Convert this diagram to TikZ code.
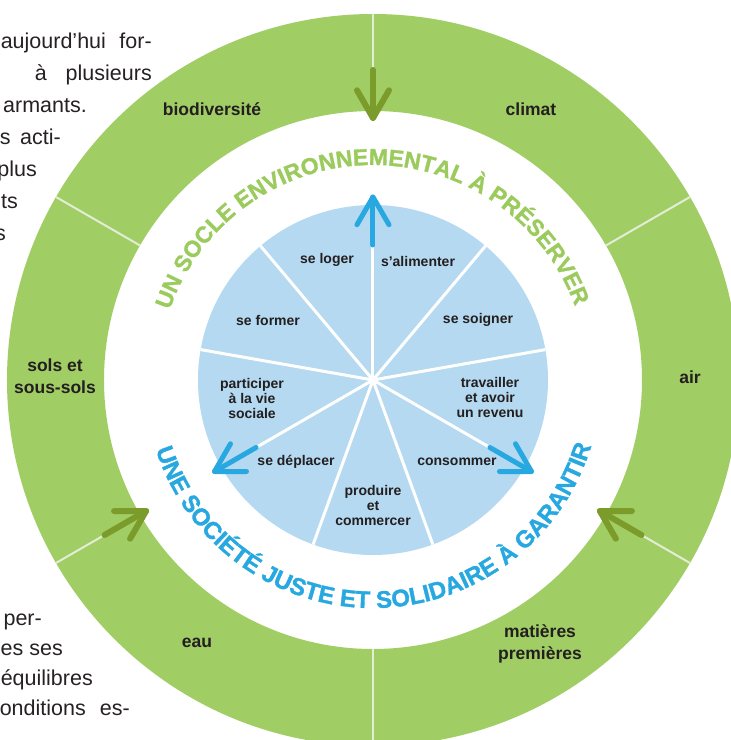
\documentclass[tikz,border=0pt]{standalone}
\usepackage{fontspec}
\setmainfont{Liberation Sans}
\newfontfamily\titlefont{Liberation Sans}[FakeBold=1.3]
\usetikzlibrary{decorations.text,calc}
\definecolor{ringgreen}{HTML}{A1CD65}
\definecolor{titlegreen}{HTML}{9BCB5C}
\definecolor{arrowgreen}{HTML}{7B9B2A}
\definecolor{ringdiv}{HTML}{E3EDD5}
\definecolor{pieblue}{HTML}{B4D9F0}
\definecolor{arrowblue}{HTML}{27A8E0}
\definecolor{darktext}{HTML}{231F20}
\definecolor{bodygray}{HTML}{262223}
\begin{document}
\begin{tikzpicture}[x=1pt,y=1pt,
  lbl/.style={font=\bfseries\fontsize{14}{15}\selectfont, text=darktext, align=center, inner sep=0pt},
  rlbl/.style={font=\bfseries\fontsize{17.5}{22}\selectfont, text=darktext, align=center, inner sep=0pt},
  body/.style={font=\fontsize{21.5}{26}\selectfont, text=bodygray, anchor=base east, inner sep=0pt},
  garrow/.style={draw=arrowgreen, line width=6pt, line cap=round, line join=round},
  barrow/.style={draw=arrowblue, line width=5pt, line cap=round, line join=round},
  ringline/.style={draw=ringdiv, line width=2pt},
  pieline/.style={draw=white, line width=3pt},
]
\useasboundingbox (-373,-360) rectangle (358,380);
\clip (-373,-360) rectangle (358,380);
\fill[white] (-373,-360) rectangle (358,380);

% body text fragments (top left)
\node[body] (t1) at (152-373,380-48) {\makebox[151pt][s]{aujourd’hui for-}};
\node[body] (t2) at (152-373,380-80) {\makebox[117pt][s]{à plusieurs}};
\node[body] (t3) at (87-373,380-112) {armants.};
\node[body] (t4) at (61-373,380-144) {\makebox[61pt][s]{s acti-}};
\node[body] (t5) at (37-373,380-176) {plus};
\node[body] (t6) at (18-373,380-208) {ts};
\node[body] (t7) at (6-373,380-240) {s};
% body text fragments (bottom left)
\node[body] (b1) at (42-373,380-625) {per-};
\node[body] (b2) at (63-373,380-655) {es ses};
\node[body] (b3) at (93-373,380-685) {équilibres};
\node[body] (b4) at (130-373,380-715) {\makebox[130pt][s]{onditions es-}};

% outer green ring
\fill[ringgreen, even odd rule] (0,0) circle (366) (0,0) circle (269);
\foreach \a in {30,150,270} \draw[ringline] (\a:269) -- (\a:366);
\foreach \a in {90,210,330} \draw[ringline] (\a:310) -- (\a:366);

% green arrows pointing inward
\foreach \a in {90,210,330} {
  \coordinate (gt\a) at (\a:262);
  \coordinate (gs\a) at (\a:310);
  \draw[garrow] (gs\a) -- (gt\a);
  \draw[garrow] ($(gt\a)+(\a+30:32)$) -- (gt\a) -- ($(gt\a)+(\a-30:32)$);
}

% ring labels
\node[rlbl] (bio) at (-161,271) {biodiversité};
\node[rlbl] (clim) at (158,271) {climat};
\node[rlbl] (air) at (317,3) {air};
\node[rlbl] (sols) at (-318,4) {sols et\\sous-sols};
\node[rlbl] (eau) at (-176,-263) {eau};
\node[rlbl] (mat) at (167,-264) {matières\\premières};

% inner pie
\fill[pieblue] (0,0) circle (175);
\foreach \a in {10,50,...,330} \draw[pieline] (0,0) -- (\a:175);

% blue arrows pointing outward
\foreach \a in {90,210,330} {
  \coordinate (bt\a) at (\a:183);
  \coordinate (bs\a) at (\a:135);
  \draw[barrow] (bs\a) -- (bt\a);
  \draw[barrow] ($(bt\a)+(\a+150:32)$) -- (bt\a) -- ($(bt\a)+(\a+210:32)$);
}

% pie labels
\node[lbl] (loger) at (-46,120) {se loger};
\node[lbl] (alim) at (45,119) {s’alimenter};
\node[lbl] (soign) at (105,60) {se soigner};
\node[lbl] (form) at (-105,60) {se former};
\node[lbl] (part) at (-121,-18) {participer\\à la vie\\sociale};
\node[lbl] (trav) at (117,-17) {travailler\\et avoir\\un revenu};
\node[lbl] (depl) at (-77,-82) {se déplacer};
\node[lbl] (cons) at (84,-82) {consommer};
\node[lbl] (prod) at (0,-125) {produire\\et\\commercer};

% curved titles
\path[decorate, decoration={text along path, text align=center,
  text={|\titlefont\bfseries\fontsize{23}{23}\selectfont\color{titlegreen}|UN SOCLE ENVIRONNEMENTAL À PRÉSERVER}}]
  (170:215) arc[start angle=170, end angle=11, radius=215];
\path[decorate, decoration={text along path, text align=center,
  text={|\titlefont\bfseries\fontsize{24}{24}\selectfont\color{arrowblue}|UNE SOCIÉTÉ JUSTE ET SOLIDAIRE À GARANTIR}}]
  (190:228) arc[start angle=190, end angle=351, radius=228];
\end{tikzpicture}
\end{document}
